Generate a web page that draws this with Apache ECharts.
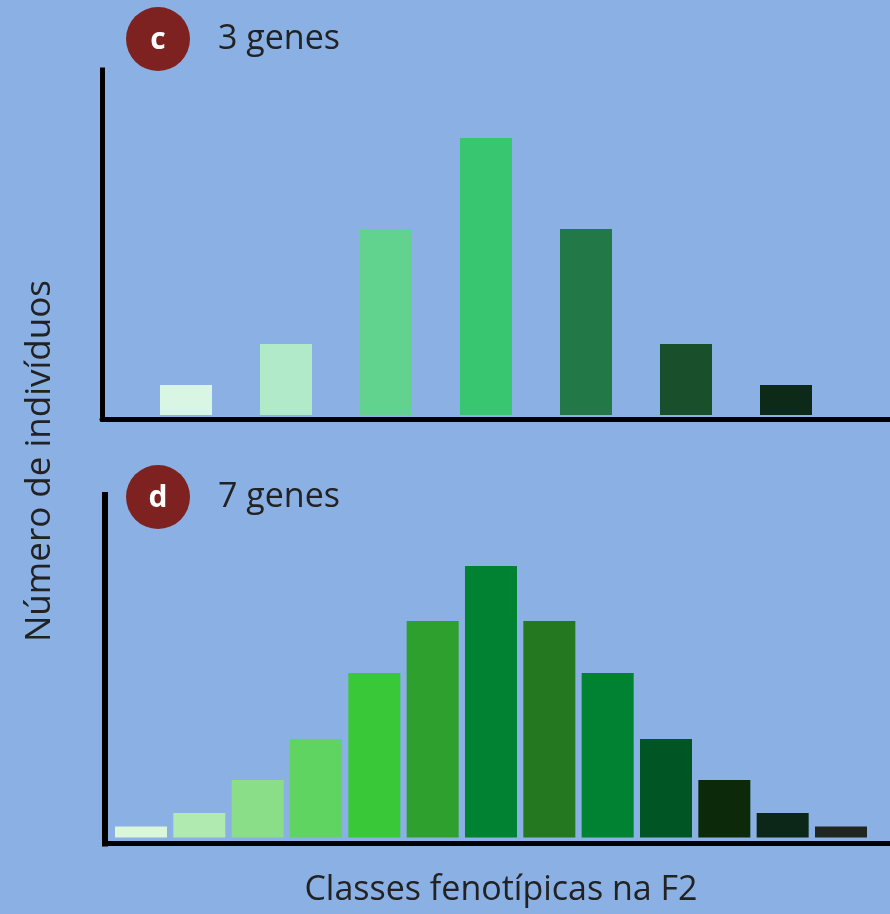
<!DOCTYPE html>
<html>
<head>
<meta charset="utf-8">
<script src="https://cdn.jsdelivr.net/npm/echarts@6/dist/echarts.min.js"></script>
<style>
html,body{margin:0;padding:0;background:#8bb0e3;}
#chart{width:890px;height:914px;}
</style>
</head>
<body>
<div id="chart"></div>
<script>
// Panel c: 3 genes (7 phenotypic classes)
const classesC = ['1','2','3','4','5','6','7'];
const valuesC = [30, 71, 186, 277, 186, 71, 30];
const colorsC = ['#d9f6e4','#b0eac8','#62d38e','#39c671','#227847','#1a4f2c','#0c2a17'];

// Panel d: 7 genes (13 phenotypic classes)
const classesD = ['1','2','3','4','5','6','7','8','9','10','11','12','13'];
const valuesD = [11, 24.5, 57.5, 98.5, 164.5, 216.5, 271.5, 216.5, 164.5, 98.5, 57.5, 24.5, 11];
const colorsD = ['#daf7d9','#b1eab0','#8ade88','#60d460','#38c838','#2da02e','#008233','#247820','#008233','#005524','#0c2a0a','#0c2718','#222621'];

const panelTitles = ['3 genes', '7 genes'];
const panelLetters = ['c', 'd'];
const yAxisTitle = 'Número de indivíduos';
const xAxisTitle = 'Classes fenotípicas na F2';

const FONT = '"Open Sans", "Noto Sans", sans-serif';
const chart = echarts.init(document.getElementById('chart'));

function axisX(gridIndex, min, max) {
  return {
    type: 'value', gridIndex, min, max, z: 5,
    axisLine: { show: true, onZero: false, lineStyle: { color: '#000', width: 5 } },
    axisTick: { show: false }, axisLabel: { show: false }, splitLine: { show: false }
  };
}
function axisY(gridIndex, min, max, w) {
  return {
    type: 'value', gridIndex, min, max, z: 5,
    axisLine: { show: true, onZero: false, lineStyle: { color: '#000', width: w, cap: 'square' } },
    axisTick: { show: false }, axisLabel: { show: false }, splitLine: { show: false }
  };
}
function barSeries(idx, classes, values, colors) {
  return {
    type: 'bar', xAxisIndex: idx, yAxisIndex: idx, barWidth: 52,
    data: classes.map((c, i) => ({ name: c, value: [i, values[i]], itemStyle: { color: colors[i] } }))
  };
}

function badge(cx, cy, letter, title) {
  return [
    { type: 'circle', shape: { cx, cy, r: 32 }, style: { fill: '#7d2220' } },
    { type: 'text', x: cx, y: cy + 1, style: { text: letter, fill: '#fff', font: 'bold 30px ' + FONT, align: 'center', verticalAlign: 'middle' } },
    { type: 'text', x: 218, y: cy, style: { text: title, fill: '#222', font: '34px ' + FONT, align: 'left', verticalAlign: 'middle' } }
  ];
}

chart.setOption({
  backgroundColor: '#8bb0e3',
  animation: false,
  grid: [
    { left: 102, right: 0, top: 70, bottom: 495 },
    { left: 105, right: 0, top: 495, bottom: 70.5 }
  ],
  xAxis: [axisX(0, -0.84, 7.04), axisX(1, -0.617, 12.84)],
  yAxis: [axisY(0, -4, 345, 5), axisY(1, -6, 342.5, 6)],
  series: [barSeries(0, classesC, valuesC, colorsC), barSeries(1, classesD, valuesD, colorsD)],
  graphic: [
    ...badge(158, 39, panelLetters[0], panelTitles[0]),
    ...badge(158, 497, panelLetters[1], panelTitles[1]),
    { type: 'text', x: 40, y: 461, rotation: Math.PI / 2,
      style: { text: yAxisTitle, fill: '#222', font: '35px ' + FONT, align: 'center', verticalAlign: 'middle' } },
    { type: 'text', x: 501, y: 890,
      style: { text: xAxisTitle, fill: '#222', font: '34px ' + FONT, align: 'center', verticalAlign: 'middle' } }
  ]
});
</script>
</body>
</html>
